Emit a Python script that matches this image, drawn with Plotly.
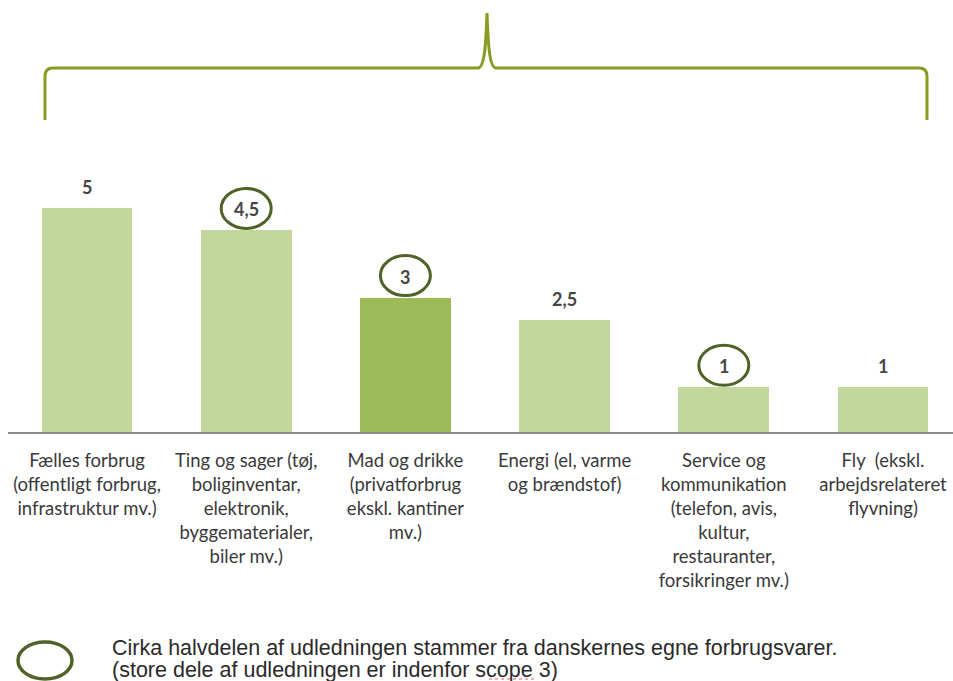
import plotly.graph_objects as go

categories = [
    "Fælles forbrug<br>(offentligt forbrug,<br>infrastruktur mv.)",
    "Ting og sager (tøj,<br>boliginventar,<br>elektronik,<br>byggematerialer,<br>biler mv.)",
    "Mad og drikke<br>(privatforbrug<br>ekskl. kantiner<br>mv.)",
    "Energi (el, varme<br>og brændstof)",
    "Service og<br>kommunikation<br>(telefon, avis,<br>kultur,<br>restauranter,<br>forsikringer mv.)",
    "Fly  (ekskl.<br>arbejdsrelateret<br>flyvning)",
]
values = [5, 4.5, 3, 2.5, 1, 1]
highlighted = [False, False, True, False, False, False]
circled = [False, True, True, False, True, False]
legend_lines = [
    "Cirka halvdelen af udledningen stammer fra danskernes egne forbrugsvarer.",
    "(store dele af udledningen er indenfor scope 3)",
]

W, H = 953, 681
ML, MR, MT, MB = 8, 0, 0, 249
PW, PH = W - ML - MR, H - MT - MB

LIGHT = "#c3d69b"
DARK = "#9bbb59"
CIRCLE = "#4f6228"
BRACE = "#8a9a22"


def px(x):
    return (x - ML) / PW


def py(y):
    return (H - MB - y) / PH


def fmt(v):
    return ("%g" % v).replace(".", ",")


xs = list(range(len(categories)))
colors = [DARK if h else LIGHT for h in highlighted]

fig = go.Figure()
fig.add_trace(go.Bar(
    x=xs, y=values, marker=dict(color=colors, line=dict(width=0)),
    width=0.57, hoverinfo="skip", showlegend=False,
))

# value labels
for i, v in zip(xs, values):
    fig.add_annotation(x=i, y=v, xref="x", yref="y", text=fmt(v), showarrow=False,
                       yanchor="middle", yshift=21,
                       font=dict(family="Lato", size=18, color="#454545", weight="bold"))

shapes = []
# circles around selected labels
for i, v, c in zip(xs, values, circled):
    if c:
        shapes.append(dict(type="circle", xref="x", yref="y", xsizemode="pixel", ysizemode="pixel",
                           xanchor=i, yanchor=v, x0=-25, x1=25, y0=2, y1=42,
                           line=dict(color=CIRCLE, width=3)))

# brace at top
pts = [
    ("M", [(45, 120)]), ("L", [(45, 76)]), ("Q", [(45, 68), (53, 68)]), ("L", [(478, 68)]),
    ("C", [(485, 68), (486, 40), (487, 13)]), ("C", [(488, 40), (489, 68), (496, 68)]),
    ("L", [(919, 68)]), ("Q", [(927, 68), (927, 76)]), ("L", [(927, 120)]),
]
path = " ".join(cmd + " " + " ".join("%.5f,%.5f" % (px(a), py(b)) for a, b in p) for cmd, p in pts)
shapes.append(dict(type="path", xref="paper", yref="paper", path=path,
                   line=dict(color=BRACE, width=3)))

# legend circle
shapes.append(dict(type="circle", xref="paper", yref="paper",
                   x0=px(18), x1=px(72), y0=py(679), y1=py(642),
                   line=dict(color=CIRCLE, width=3.5)))
# spellcheck squiggle under "scope"
shapes.append(dict(type="line", xref="paper", yref="paper",
                   x0=px(489), x1=px(537), y0=py(679), y1=py(679),
                   line=dict(color="#e06060", width=1, dash="dot")))

for k, line in enumerate(legend_lines):
    fig.add_annotation(x=px(110), y=py(648 + 22 * k), xref="paper", yref="paper",
                       xanchor="left", yanchor="middle", align="left", showarrow=False, text=line,
                       font=dict(family="Liberation Sans", size=21.5, color="#2a2a2a"))

fig.update_layout(
    width=W, height=H, margin=dict(l=ML, r=MR, t=MT, b=MB),
    paper_bgcolor="white", plot_bgcolor="white", shapes=shapes, bargap=0,
    xaxis=dict(range=[-79 / 159.2, (PW - 79) / 159.2], tickvals=xs, ticktext=categories,
               showline=True, linecolor="#8c8c8c", linewidth=2, showgrid=False, zeroline=False,
               ticks="", ticklabelstandoff=11,
               tickfont=dict(family="Lato", size=18.5, color="#3a3a3a")),
    yaxis=dict(range=[0, PH / 44.8], visible=False, showgrid=False, zeroline=False),
)

fig.write_html("out.html", config={"displayModeBar": False},
               post_script="document.body.style.margin='0';document.body.style.overflow='hidden';")
